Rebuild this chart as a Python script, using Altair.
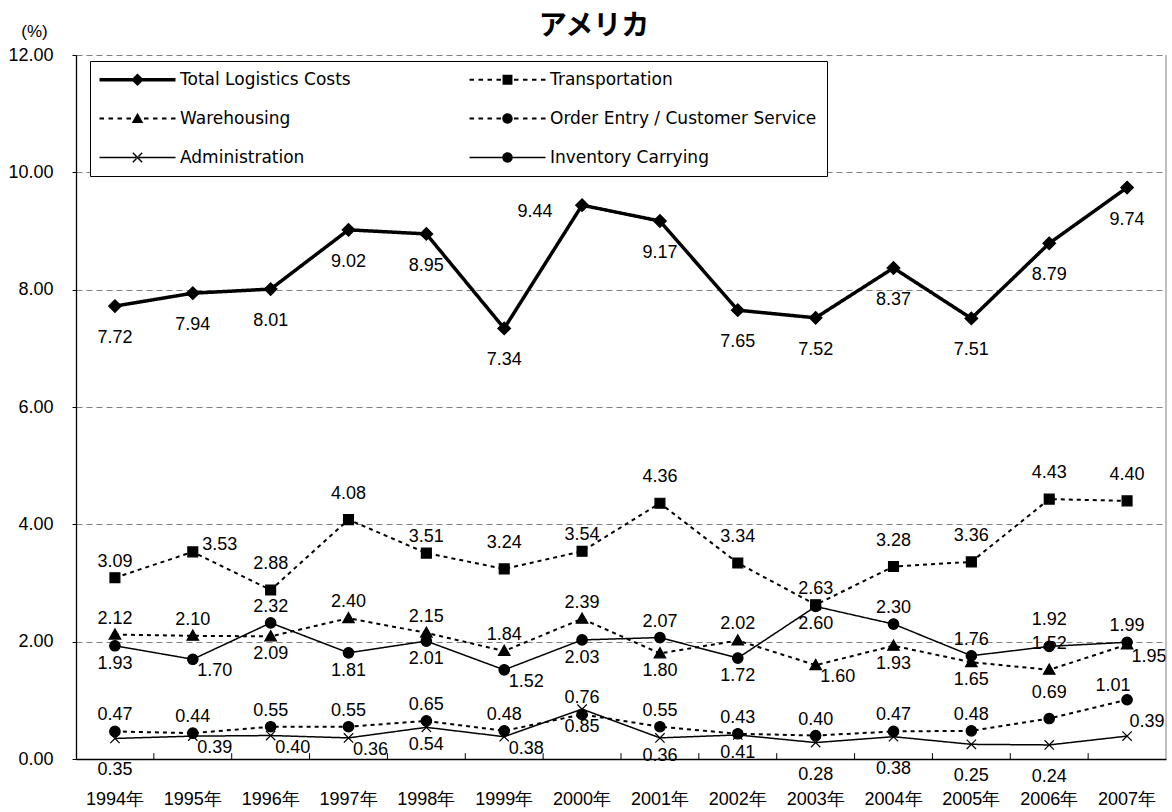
import math

import altair as alt
import pandas as pd

# ---- data -------------------------------------------------------------
years = ["1994年", "1995年", "1996年", "1997年", "1998年", "1999年", "2000年",
         "2001年", "2002年", "2003年", "2004年", "2005年", "2006年", "2007年"]

series = ["Total Logistics Costs", "Transportation", "Warehousing",
          "Order Entry / Customer Service", "Administration", "Inventory Carrying"]

total = [7.72, 7.94, 8.01, 9.02, 8.95, 7.34, 9.44, 9.17, 7.65, 7.52, 8.37, 7.51, 8.79, 9.74]
transportation = [3.09, 3.53, 2.88, 4.08, 3.51, 3.24, 3.54, 4.36, 3.34, 2.63, 3.28, 3.36, 4.43, 4.40]
warehousing = [2.12, 2.10, 2.09, 2.40, 2.15, 1.84, 2.39, 1.80, 2.02, 1.60, 1.93, 1.65, 1.52, 1.95]
order_entry = [0.47, 0.44, 0.55, 0.55, 0.65, 0.48, 0.76, 0.55, 0.43, 0.40, 0.47, 0.48, 0.69, 1.01]
administration = [0.35, 0.39, 0.40, 0.36, 0.54, 0.38, 0.85, 0.36, 0.41, 0.28, 0.38, 0.25, 0.24, 0.39]
inventory = [1.93, 1.70, 2.32, 1.81, 2.01, 1.52, 2.03, 2.07, 1.72, 2.60, 2.30, 1.76, 1.92, 1.99]

values = [total, transportation, warehousing, order_entry, administration, inventory]

# legend grid is filled column by column: left column first, then right column
legend_order = ["Total Logistics Costs", "Warehousing", "Administration",
                "Transportation", "Order Entry / Customer Service", "Inventory Carrying"]

# ---- value-label placement (style) ------------------------------------
placements = {
    "Total Logistics Costs": ["B", "B", "B", "B", "B", "B", "l", "B", "B", "B", "B", "B", "B", "B"],
    "Transportation": ["a", "ra", "A", "A", "a", "A", "a", "A", "A", "a", "A", "A", "A", "A"],
    "Warehousing": ["a", "a", "b", "a", "a", "a", "a", "b", "a", "r", "b", "b", "A", "r"],
    "Order Entry / Customer Service": ["a", "a", "a", "a", "a", "a", "a", "a", "a", "a", "a", "a", "A", "la"],
    "Administration": ["B", "r", "r", "r", "b", "r", "b", "b", "b", "B", "B", "B", "B", "rA"],
    "Inventory Carrying": ["b", "r", "a", "b", "b", "r", "b", "a", "b", "b", "a", "a", "A", "a"],
}
OFFSETS = {"a": (0, -16), "A": (0, -26), "b": (0, 18), "B": (0, 32), "r": (22, 12),
           "ra": (27, -7), "l": (-47, 7), "la": (-14, -14), "rA": (20, -14)}

rows = []
for name, vals in zip(series, values):
    for yr, v, p in zip(years, vals, placements[name]):
        rows.append({"year": yr, "series": name, "value": v, "label": f"{v:.2f}", "place": p})
df = pd.DataFrame(rows)

# ---- marker and line styles -------------------------------------------
U = 5.5  # pixels per symbol-path unit at size 121


def bar(x0, x1, h):
    return f"M{x0:.3f},{-h:.3f}H{x1:.3f}V{h:.3f}H{x0:.3f}Z"


def filled_x(a=0.85, w_px=1.4):
    """An X drawn as two thin filled bars (legend symbols are fill-only)."""
    w = w_px / 2 / U
    k = w / math.sqrt(2)
    out = []
    for sx in (1, -1):
        # bar from (-a, -sx*a) to (a, sx*a)
        p = [(-a + k * sx, -sx * a - k), (a + k * sx, sx * a - k),
             (a - k * sx, sx * a + k), (-a - k * sx, -sx * a + k)]
        if sx == -1:
            p = p[::-1]
        out.append("M" + "L".join(f"{x:.3f},{y:.3f}" for x, y in p) + "Z")
    return "".join(out)


MARKERS = {
    "diamond": "M-1.15,0L0,-1.15L1.15,0L0,1.15Z",
    "square": "M-0.9,-0.9H0.9V0.9H-0.9Z",
    "triangle": "M0,-1.05L1.05,0.8H-1.05Z",
    "circle": "M-0.95,0A0.95,0.95,0,1,1,0.95,0A0.95,0.95,0,1,1,-0.95,0Z",
    "x": "M-0.85,-0.85L0.85,0.85M-0.85,0.85L0.85,-0.85",
}
LEGEND_MARKERS = dict(MARKERS, x=filled_x())

STYLE = {
    "Total Logistics Costs": dict(width=3.5, dash=[1, 0], marker="diamond"),
    "Transportation": dict(width=2, dash=[4, 4], marker="square"),
    "Warehousing": dict(width=2, dash=[4, 4], marker="triangle"),
    "Order Entry / Customer Service": dict(width=2, dash=[4, 4], marker="circle"),
    "Administration": dict(width=1.5, dash=[1, 0], marker="x"),
    "Inventory Carrying": dict(width=1.5, dash=[1, 0], marker="circle"),
}


def legend_line(width_px, dashed, half_px=38.0):
    h = width_px / 2 / U
    if not dashed:
        return bar(-half_px / U, half_px / U, h)
    parts = []
    x = half_px
    while x > 4:
        x2 = max(x - 4.5, 4)
        parts.append(bar(-x / U, -x2 / U, h))
        parts.append(bar(x2 / U, x / U, h))
        x = x2 - 4.5
    return "".join(parts)


legend_paths = [
    legend_line(STYLE[s]["width"], STYLE[s]["dash"] != [1, 0]) + LEGEND_MARKERS[STYLE[s]["marker"]]
    for s in legend_order
]

FONT = "Liberation Sans"

X = alt.X("year:N", sort=years,
          scale=alt.Scale(type="band", domain=years, paddingInner=0, paddingOuter=0),
          axis=alt.Axis(title=None, ticks=False, labelAngle=0, labelPadding=31,
                        labelFont=FONT, labelFontSize=18, labelColor="black",
                        domainColor="black", domainWidth=1.3, grid=False))
Y = alt.Y("value:Q",
          scale=alt.Scale(domain=[0, 12], nice=False, zero=True),
          axis=alt.Axis(values=[0, 2, 4, 6, 8, 10, 12], format=".2f",
                        grid=True, gridDash=[6, 4], gridColor="#808080", gridWidth=1,
                        tickSize=4, tickColor="black", domainColor="black", domainWidth=1.3,
                        labelFont=FONT, labelFontSize=18, labelColor="black", labelPadding=19,
                        title="(%)", titleAngle=0, titleX=-42, titleY=-24,
                        titleAlign="center", titleBaseline="middle",
                        titleFont=FONT, titleFontSize=17, titleFontWeight="normal",
                        titleColor="black"))

base = alt.Chart(df)
layers = []

# series lines
for name in series:
    st = STYLE[name]
    layers.append(
        base.transform_filter(alt.datum.series == name)
        .mark_line(color="black", strokeWidth=st["width"], strokeDash=st["dash"])
        .encode(x=X, y=Y)
    )

# series markers
for name in series:
    st = STYLE[name]
    layers.append(
        base.transform_filter(alt.datum.series == name)
        .mark_point(shape=MARKERS[st["marker"]], size=121, filled=True,
                    fill="black", stroke="black", strokeWidth=1.2, opacity=1)
        .encode(x=X, y=Y)
    )

# value labels
for code, (dx, dy) in OFFSETS.items():
    layers.append(
        base.transform_filter(alt.datum.place == code)
        .mark_text(dx=dx, dy=dy, font=FONT, fontSize=18, color="black",
                   align="center", baseline="middle")
        .encode(x=X, y=Y, text="label:N")
    )

# inward tick marks on the category axis, at band boundaries
tick_df = pd.DataFrame({"year": years[1:]})
layers.append(
    alt.Chart(tick_df).mark_rule(color="black", strokeWidth=1)
    .encode(x=alt.X("year:N", sort=years, bandPosition=0), y=alt.datum(0), y2=alt.datum(0.1))
)

# right edge of the plot frame
layers.append(
    alt.Chart(pd.DataFrame({"edge": [1]})).mark_rule(color="#808080", strokeWidth=1)
    .encode(x=alt.value(1090), y=alt.value(0), y2=alt.value(704))
)

# legend carrier (draws no marks; its shape scale carries line+marker samples)
layers.append(
    base.transform_filter("false")
    .mark_point(filled=True, fill="black", size=121, opacity=1)
    .encode(
        x=X, y=Y,
        shape=alt.Shape("series:N", scale=alt.Scale(domain=legend_order, range=legend_paths),
                        legend=alt.Legend(
                            title=None, orient="none", legendX=14, legendY=6, columns=2,
                            labelFont="DejaVu Sans", labelFontSize=17, labelColor="black",
                            labelLimit=500, labelOffset=34, symbolOffset=29, symbolSize=121,
                            symbolFillColor="black", symbolStrokeWidth=0, symbolOpacity=1,
                            padding=10, rowPadding=21, columnPadding=118,
                            fillColor="white", strokeColor="black")),
    )
)

chart = (
    alt.layer(*layers)
    .properties(
        width=1090, height=704,
        padding={"left": 76, "top": 55, "right": 6, "bottom": 53},
        autosize=alt.AutoSizeParams(type="none"),
        background="white",
        title=alt.Title("アメリカ", font="Noto Sans CJK JP", fontSize=28, fontWeight="bold",
                        color="black", anchor="middle", dx=-27, offset=-19, frame="group"),
    )
    .configure_view(stroke=None)
)

chart.save("out.html", embed_options={"renderer": "svg", "actions": False})
